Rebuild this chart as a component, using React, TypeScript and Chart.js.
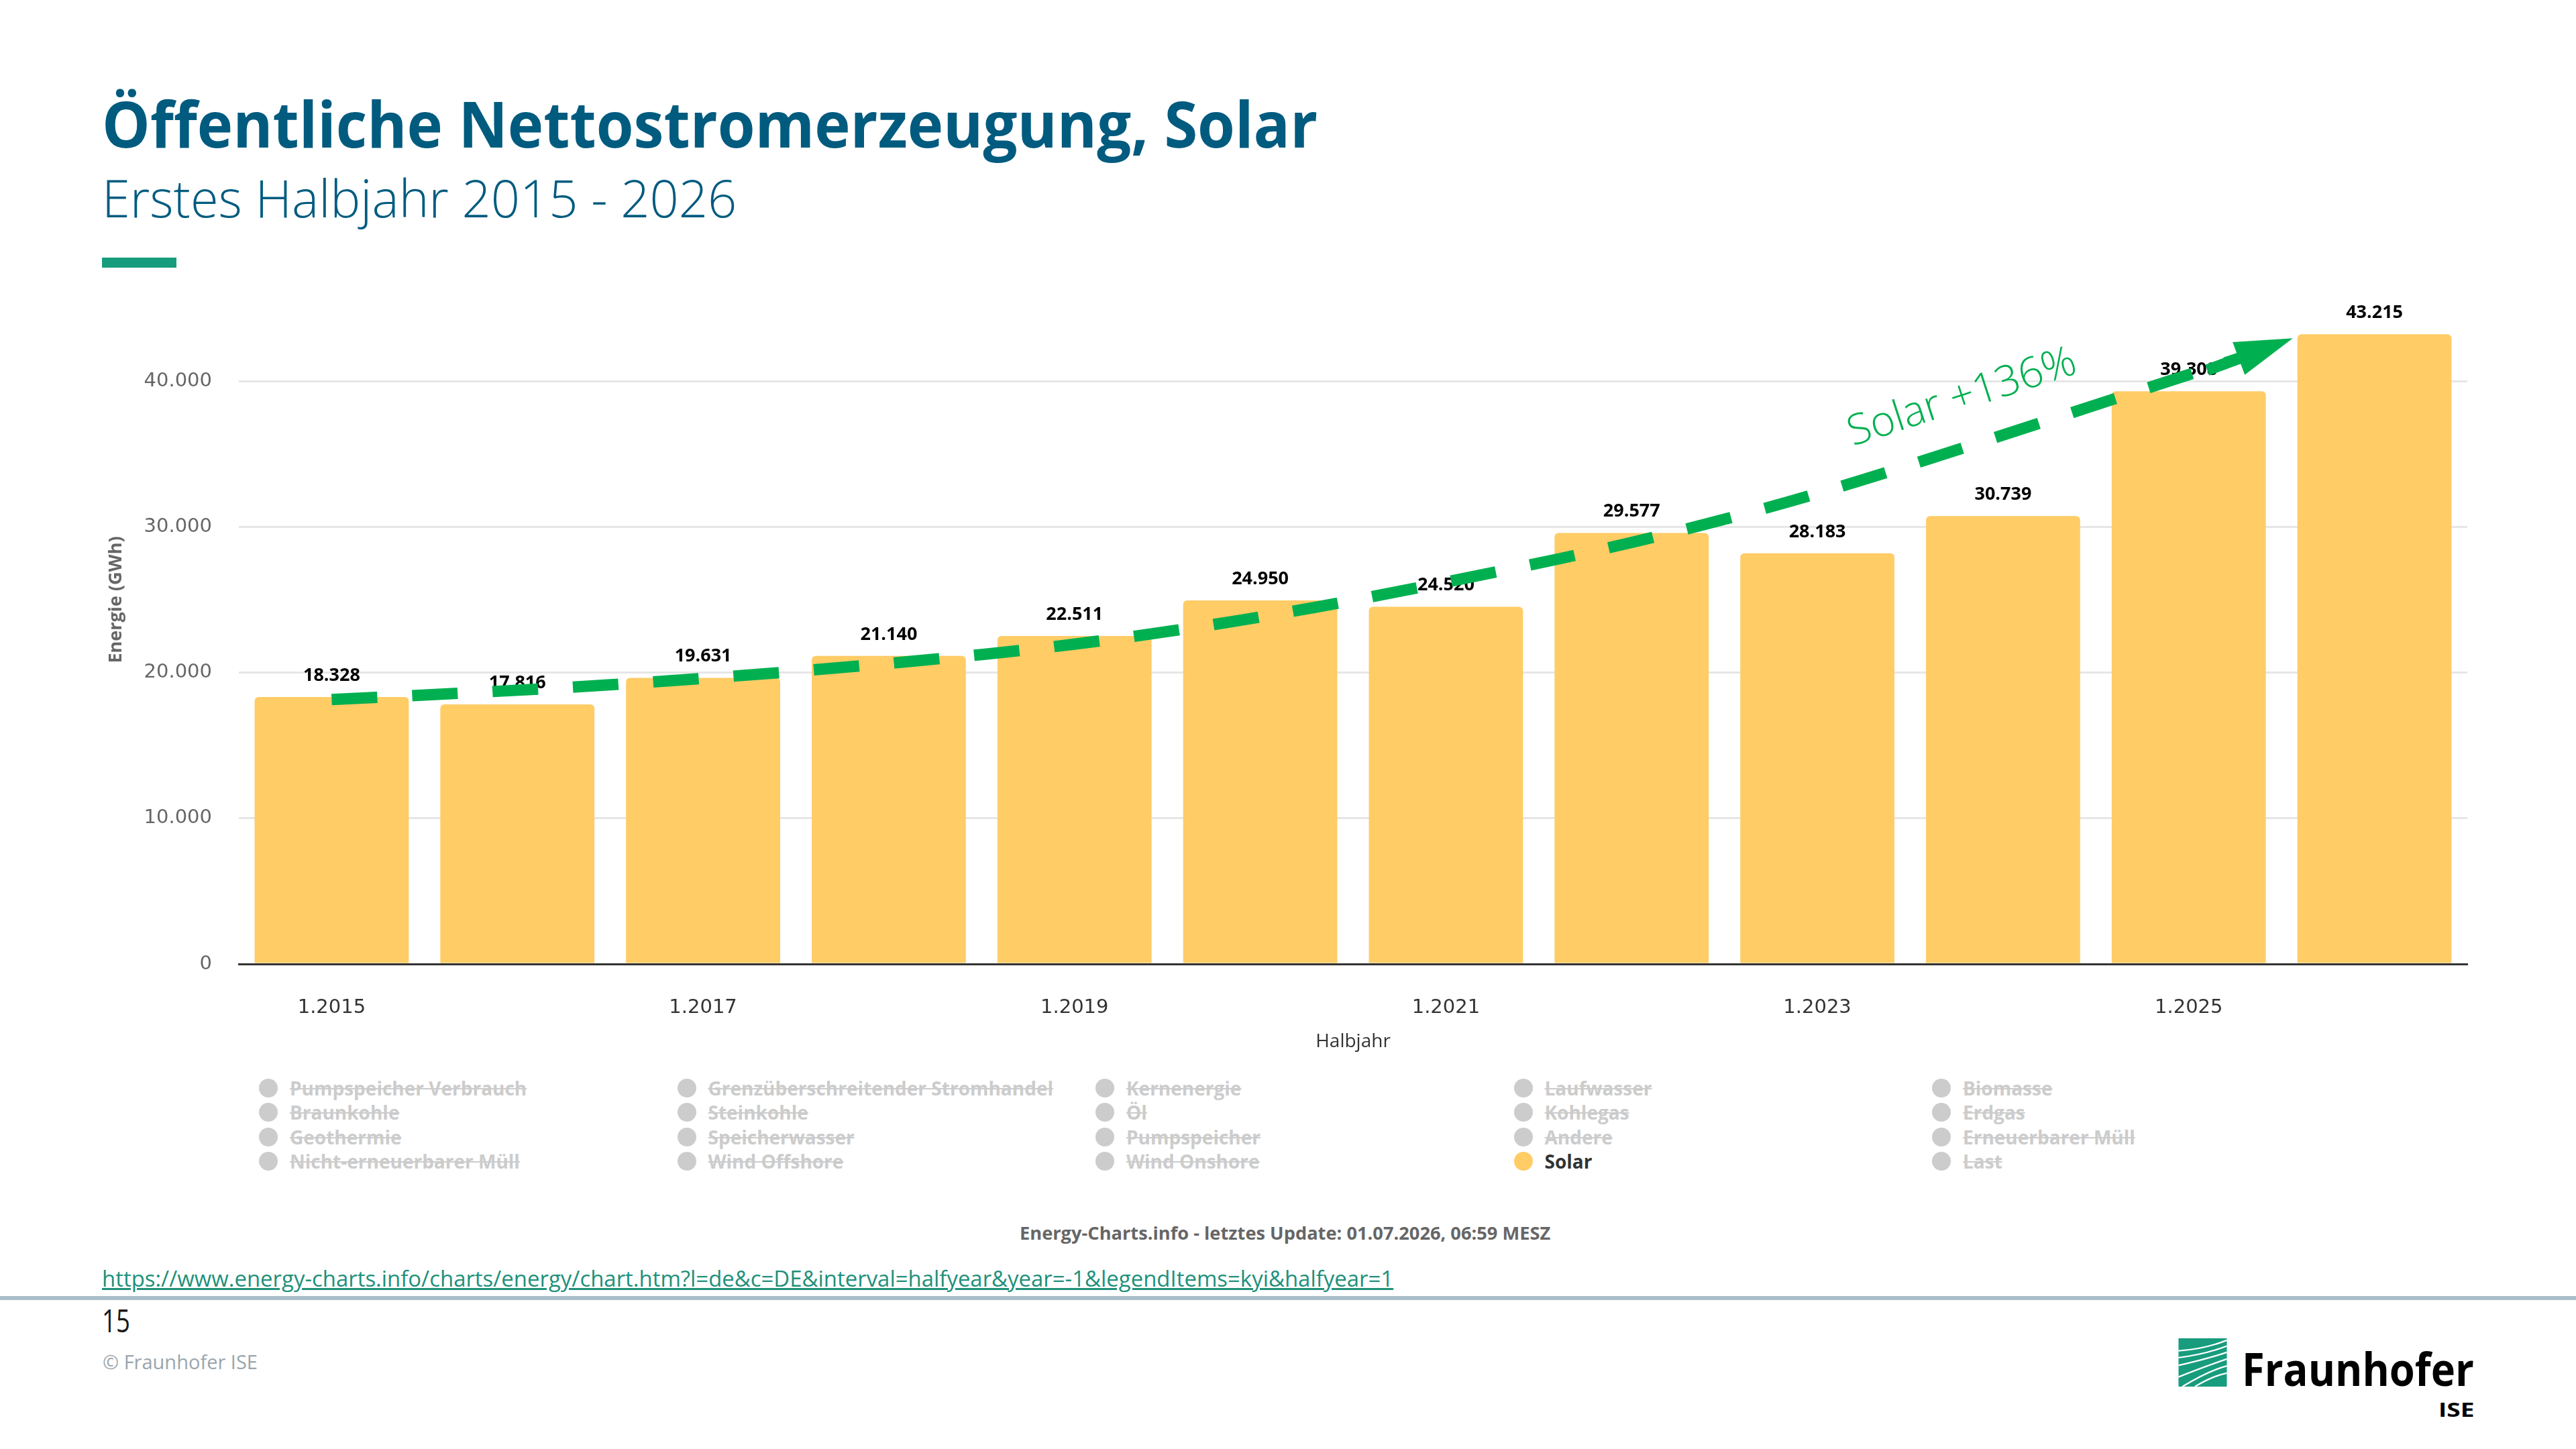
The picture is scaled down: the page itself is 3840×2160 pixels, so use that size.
import React, { useEffect, useLayoutEffect, useRef, useState } from 'react';
import { Chart, registerables } from 'chart.js';

Chart.register(...registerables);

// Half-year categories and first-half solar net generation (GWh)
const halfYears = ['1.2015', '1.2016', '1.2017', '1.2018', '1.2019', '1.2020', '1.2021', '1.2022', '1.2023', '1.2024', '1.2025', '1.2026'];
const solarGWh = [18328, 17816, 19631, 21140, 22511, 24950, 24520, 29577, 28183, 30739, 39308, 43215];
const yTickValues = [0, 10000, 20000, 30000, 40000];

// Hand-drawn trend arrow, given in chart units (category index, GWh)
const trendIndex = [0, 1, 2, 3, 4, 5, 6, 7, 8, 9, 10.28];
const trendValue = [18150, 18750, 19580, 20600, 21880, 23750, 26180, 28850, 32200, 36300, 41610];
const arrowTip = { index: 10.56, value: 42940 };
const trendLabel = { text: 'Solar +136%', index: 8.78, value: 38850, angle: -18 };

// Legend entries, column by column
const legendColumns = [
  ['Pumpspeicher Verbrauch', 'Braunkohle', 'Geothermie', 'Nicht-erneuerbarer Müll'],
  ['Grenzüberschreitender Stromhandel', 'Steinkohle', 'Speicherwasser', 'Wind Offshore'],
  ['Kernenergie', 'Öl', 'Pumpspeicher', 'Wind Onshore'],
  ['Laufwasser', 'Kohlegas', 'Andere', 'Solar'],
  ['Biomasse', 'Erdgas', 'Erneuerbarer Müll', 'Last'],
];
const activeSeries = 'Solar';

const SOLAR = '#ffcc66';
const TREND = '#00b050';
const BLUE = '#005b7f';

const fmt = (v: number) => String(Math.round(v)).replace(/\B(?=(\d{3})+(?!\d))/g, '.');

const valueLabels = {
  id: 'valueLabels',
  afterDatasetsDraw(chart: any) {
    const { ctx } = chart;
    const meta = chart.getDatasetMeta(0);
    ctx.save();
    ctx.font = 'bold 27px "Open Sans"';
    ctx.fillStyle = '#000000';
    ctx.textAlign = 'center';
    ctx.textBaseline = 'middle';
    meta.data.forEach((bar: any, i: number) => {
      ctx.fillText(fmt(solarGWh[i]), bar.x, bar.y - 32);
    });
    ctx.restore();
  },
};

const trendArrow = {
  id: 'trendArrow',
  afterDraw(chart: any) {
    const { ctx, scales } = chart;
    const x = scales.x;
    const y = scales.y;
    const pts = trendIndex.map((ix, k) => [x.getPixelForValue(ix), y.getPixelForValue(trendValue[k])]);
    ctx.save();
    ctx.strokeStyle = TREND;
    ctx.fillStyle = TREND;
    ctx.lineWidth = 17;
    ctx.lineCap = 'butt';
    ctx.lineJoin = 'round';
    ctx.setLineDash([68, 52]);
    ctx.beginPath();
    ctx.moveTo(pts[0][0], pts[0][1]);
    for (let k = 1; k < pts.length - 1; k++) {
      const mx = (pts[k][0] + pts[k + 1][0]) / 2;
      const my = (pts[k][1] + pts[k + 1][1]) / 2;
      ctx.quadraticCurveTo(pts[k][0], pts[k][1], mx, my);
    }
    const last = pts[pts.length - 1];
    ctx.lineTo(last[0], last[1]);
    ctx.stroke();
    ctx.setLineDash([]);

    // arrow head
    const tx = x.getPixelForValue(arrowTip.index);
    const ty = y.getPixelForValue(arrowTip.value);
    const dx = tx - last[0];
    const dy = ty - last[1];
    const len = Math.hypot(dx, dy) || 1;
    const ux = dx / len;
    const uy = dy / len;
    const headLen = 86;
    const half = 26;
    const bx = tx - ux * headLen;
    const by = ty - uy * headLen;
    ctx.beginPath();
    ctx.moveTo(tx, ty);
    ctx.lineTo(bx - uy * half, by + ux * half);
    ctx.lineTo(bx + uy * half, by - ux * half);
    ctx.closePath();
    ctx.fill();
    // short solid shaft into the head
    ctx.beginPath();
    ctx.moveTo(bx - ux * 50, by - uy * 50);
    ctx.lineTo(bx + ux * 4, by + uy * 4);
    ctx.stroke();

    // label along the arrow
    const lx = x.getPixelForValue(trendLabel.index);
    const ly = y.getPixelForValue(trendLabel.value);
    ctx.translate(lx, ly);
    ctx.rotate((trendLabel.angle * Math.PI) / 180);
    ctx.font = '300 63px "Open Sans"';
    ctx.textAlign = 'center';
    ctx.textBaseline = 'middle';
    ctx.fillText(trendLabel.text, 0, 0);
    ctx.restore();
  },
};

function FitText(props: { text: string; left: number; top: number; width: number; style: React.CSSProperties }) {
  const ref = useRef<HTMLSpanElement>(null);
  const [sx, setSx] = useState(1);
  useLayoutEffect(() => {
    const measure = () => {
      const el = ref.current;
      if (!el) return;
      const w = el.offsetWidth;
      if (w > 0) setSx(props.width / w);
    };
    measure();
    if ((document as any).fonts && (document as any).fonts.ready) {
      (document as any).fonts.ready.then(measure);
    }
  }, [props.text, props.width]);
  return (
    <span
      ref={ref}
      style={{
        position: 'absolute',
        left: props.left,
        top: props.top,
        whiteSpace: 'nowrap',
        transform: `scaleX(${sx})`,
        transformOrigin: 'left top',
        ...props.style,
        lineHeight: 1,
      }}
    >
      {props.text}
    </span>
  );
}

function SolarChart() {
  const canvasRef = useRef<HTMLCanvasElement>(null);
  useEffect(() => {
    const canvas = canvasRef.current;
    if (!canvas) return;
    const chart = new Chart(canvas, {
      type: 'bar',
      data: {
        labels: halfYears,
        datasets: [
          {
            label: 'Solar',
            data: solarGWh,
            backgroundColor: SOLAR,
            borderRadius: 6,
            barPercentage: 0.83,
            categoryPercentage: 1,
          },
        ],
      },
      options: {
        responsive: false,
        animation: false,
        devicePixelRatio: 1,
        layout: { padding: { top: 21, right: 22, bottom: 20, left: 0 } },
        plugins: {
          legend: { display: false },
          tooltip: { enabled: false },
        },
        scales: {
          x: {
            grid: { display: false, drawTicks: false },
            border: { display: true, color: '#333333', width: 3 },
            ticks: {
              autoSkip: false,
              maxRotation: 0,
              padding: 48,
              color: '#333333',
              font: { family: '"DejaVu Sans"', size: 29 },
              callback: (_v: any, i: number) => (i % 2 === 0 ? halfYears[i] : ''),
            },
            title: {
              display: true,
              text: 'Halbjahr',
              color: '#333333',
              font: { family: '"Open Sans"', size: 28 },
              padding: 0,
            },
            afterFit: (s: any) => {
              s.height = 133;
              s.paddingLeft = 0;
              s.paddingRight = 0;
            },
          },
          y: {
            min: 0,
            max: 50000,
            afterBuildTicks: (s: any) => {
              s.ticks = yTickValues.map((v) => ({ value: v }));
            },
            ticks: {
              padding: 40,
              color: '#666666',
              font: { family: '"DejaVu Sans"', size: 29 },
              callback: (v: any) => fmt(Number(v)),
            },
            grid: {
              drawTicks: false,
              lineWidth: 3,
              color: (c: any) => (c.tick && c.tick.value === 0 ? 'rgba(0,0,0,0)' : '#e6e6e6'),
            },
            border: { display: false },
            title: {
              display: true,
              text: 'Energie (GWh)',
              color: '#666666',
              font: { family: '"Open Sans"', size: 27, weight: 'bold' },
              padding: { top: 17, bottom: 0 },
            },
            afterFit: (s: any) => {
              s.width = 216;
              s.paddingTop = 0;
              s.paddingBottom = 0;
            },
          },
        },
      } as any,
      plugins: [valueLabels, trendArrow],
    });
    return () => chart.destroy();
  }, []);
  return (
    <canvas
      ref={canvasRef}
      width={3560}
      height={1260}
      style={{ position: 'absolute', left: 140, top: 330, width: 3560, height: 1260, display: 'block' }}
    />
  );
}

function Legend() {
  const items: React.ReactNode[] = [];
  legendColumns.forEach((col, c) => {
    col.forEach((name, r) => {
      const cx = 400 + 623.5 * c;
      const cy = 1622 + 36.3 * r;
      const active = name === activeSeries;
      items.push(
        <div key={name} style={{ position: 'absolute', left: cx - 14, top: cy - 18, height: 36, display: 'flex', alignItems: 'center', whiteSpace: 'nowrap' }}>
          <span style={{ width: 28, height: 28, borderRadius: 14, background: active ? SOLAR : '#cccccc', display: 'inline-block', flex: 'none' }} />
          <span
            style={{
              marginLeft: 18,
              font: 'bold 28px "Open Sans"',
              lineHeight: 1,
              color: active ? '#333333' : '#cccccc',
              textDecoration: active ? 'none' : 'line-through',
              textDecorationColor: '#cccccc',
            }}
          >
            {name}
          </span>
        </div>
      );
    });
  });
  return <>{items}</>;
}

function FraunhoferLogo() {
  return (
    <>
      <svg style={{ position: 'absolute', left: 3247, top: 1995 }} width={73} height={72} viewBox="0 0 100 100">
        <rect x={0} y={0} width={100} height={100} fill="#179c7d" />
        <g fill="none" stroke="#ffffff" strokeWidth={3.2}>
          <path d="M0 26 Q55 22 100 4" />
          <path d="M0 40 Q55 33 100 16" />
          <path d="M0 56 Q55 44 100 29" />
          <path d="M0 80 Q55 58 100 43" />
          <path d="M8 100 Q60 68 100 57" />
          <path d="M34 100 Q70 78 100 72" />
        </g>
      </svg>
      <FitText text="Fraunhofer" left={3342} top={2006} width={346} style={{ font: 'bold 68px "Open Sans"', color: '#000000' }} />
      <FitText text="ISE" left={3635} top={2087} width={53} style={{ font: 'bold 28px "Open Sans"', color: '#000000' }} />
    </>
  );
}

export default function App() {
  return (
    <div style={{ position: 'fixed', left: 0, top: 0, width: 3840, height: 2160, background: '#ffffff', overflow: 'hidden', fontFamily: '"Open Sans", sans-serif' }}>
      <FitText text="Öffentliche Nettostromerzeugung, Solar" left={152} top={136} width={1812} style={{ font: 'bold 95px "Open Sans"', color: BLUE }} />
      <FitText text="Erstes Halbjahr 2015 - 2026" left={152} top={255} width={946} style={{ font: '300 78px "Open Sans"', color: BLUE }} />
      <div style={{ position: 'absolute', left: 152, top: 384, width: 111, height: 15, background: '#179c7d' }} />

      <SolarChart />
      <Legend />

      <FitText
        text="Energy-Charts.info - letztes Update: 01.07.2026, 06:59 MESZ"
        left={1520}
        top={1824}
        width={791}
        style={{ font: 'bold 27px "Open Sans"', color: '#666666' }}
      />
      <FitText
        text="https://www.energy-charts.info/charts/energy/chart.htm?l=de&c=DE&interval=halfyear&year=-1&legendItems=kyi&halfyear=1"
        left={152}
        top={1889}
        width={1925}
        style={{ font: '33px "Open Sans"', color: '#21907a', textDecoration: 'underline' }}
      />
      <div style={{ position: 'absolute', left: 0, top: 1932, width: 3840, height: 6, background: '#a9bec8' }} />
      <FitText text="15" left={152} top={1945} width={42} style={{ font: '47px "Open Sans"', color: '#1a1a1a' }} />
      <FitText text="© Fraunhofer ISE" left={153} top={2015} width={231} style={{ font: '30px "Open Sans"', color: '#9aa5ad' }} />
      <FraunhoferLogo />
    </div>
  );
}
